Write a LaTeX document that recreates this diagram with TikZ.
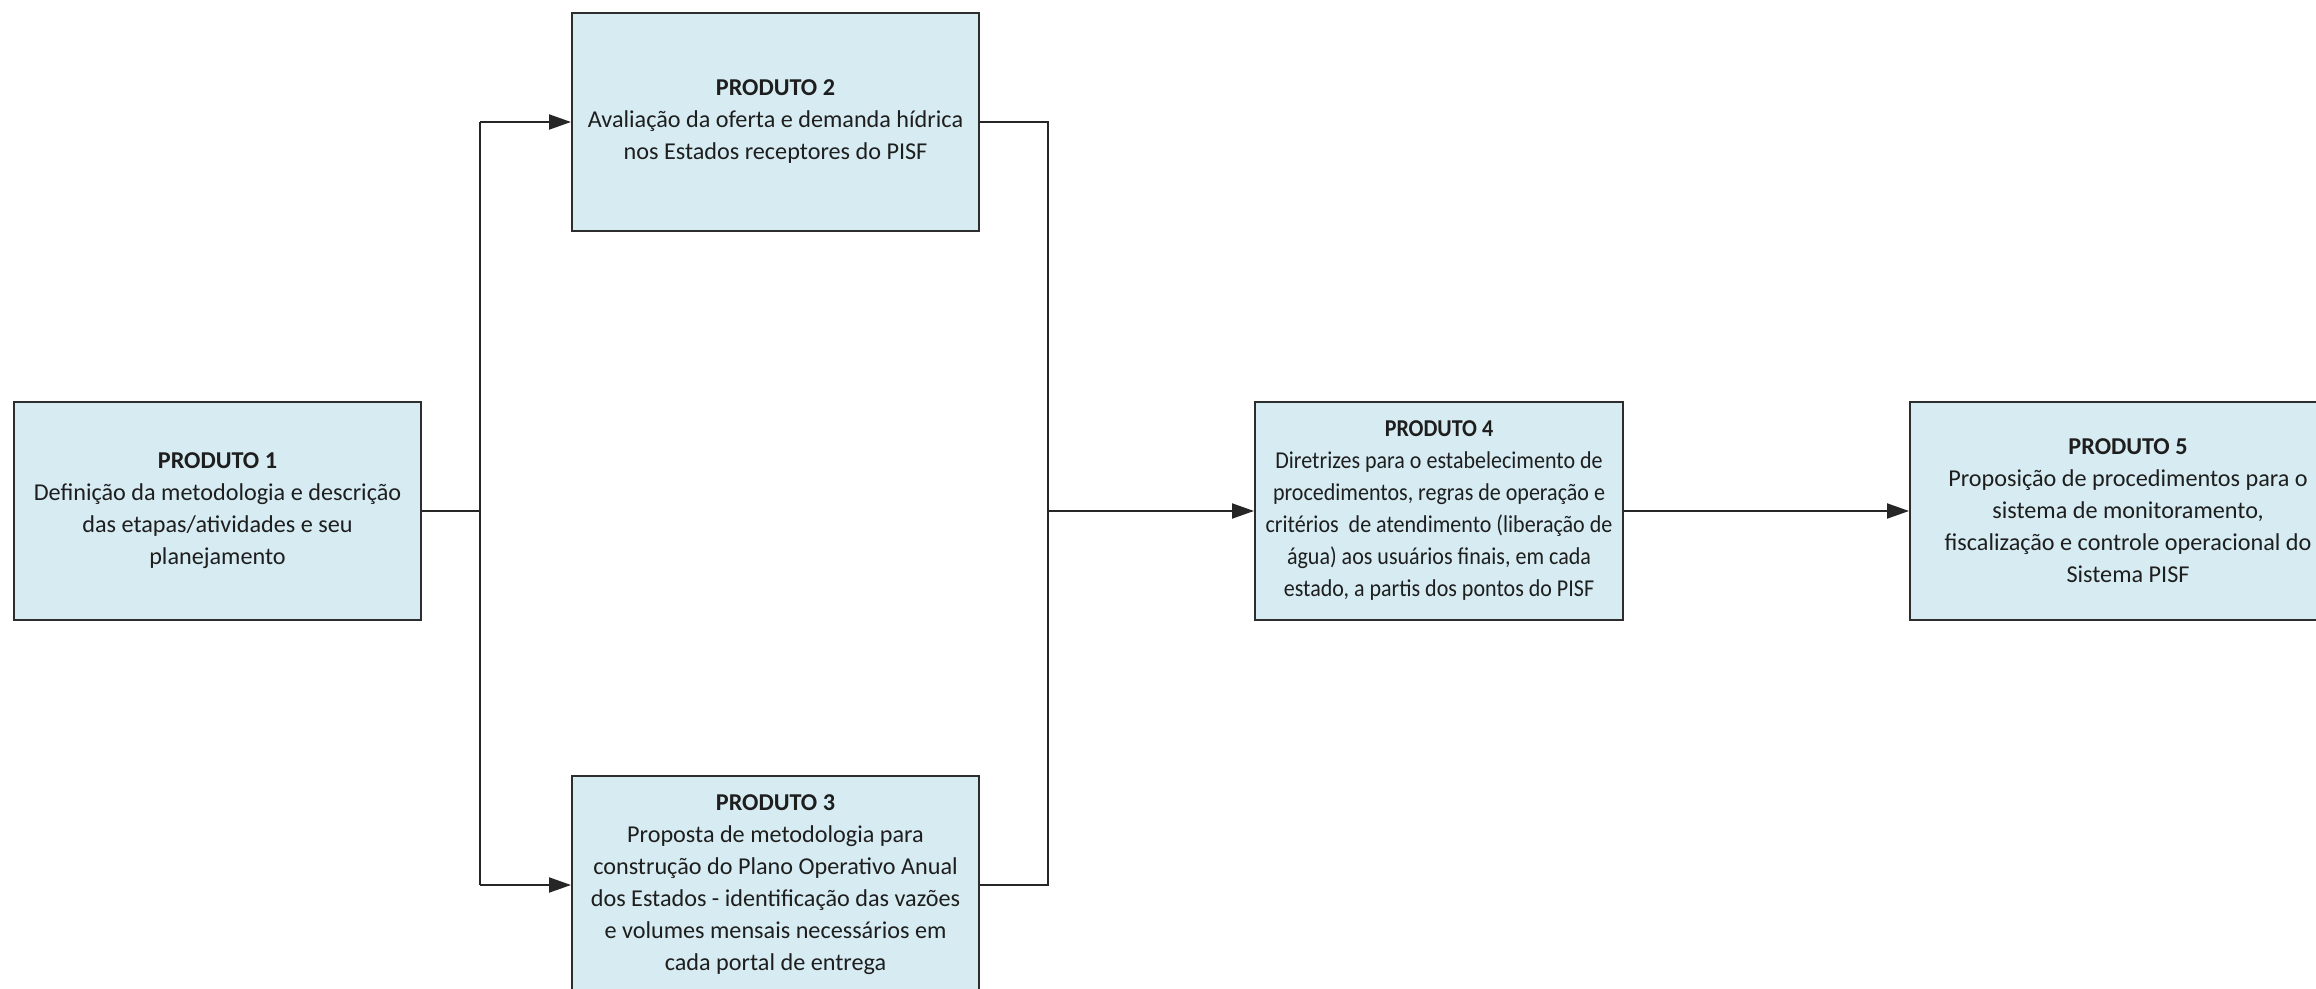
\documentclass[tikz,border=0pt]{standalone}
\usepackage{fontspec}
\setmainfont{Carlito}
\newfontfamily\condfont[FakeStretch=0.91]{Carlito}
\usetikzlibrary{arrows.meta}
\definecolor{boxfill}{RGB}{214,236,242}
\definecolor{boxline}{RGB}{45,45,45}
\definecolor{txt}{RGB}{30,30,30}
\tikzset{
  prodbox/.style={draw=boxline, line width=1pt, fill=boxfill, rectangle, inner sep=0pt,
    align=center, text=txt, font=\fontsize{12.1}{16}\selectfont},
  conn/.style={draw=black!85, line width=1pt},
  arr/.style={conn, -{Triangle[length=11pt,width=7.5pt]}}
}
\begin{document}
\begin{tikzpicture}[x=0.5pt,y=-0.5pt]
\useasboundingbox (0,0) rectangle (2316,989);
\node[prodbox, minimum width=203.5pt, minimum height=109pt] (p1) at (217.5,511)
  {\textbf{PRODUTO 1}\\Definição da metodologia e descrição\\das etapas/atividades e seu\\planejamento};
\node[prodbox, minimum width=203.5pt, minimum height=109pt] (p2) at (775.5,122)
  {\textbf{PRODUTO 2}\\Avaliação da oferta e demanda hídrica\\nos Estados receptores do PISF};
\node[prodbox, minimum width=203.5pt, minimum height=109pt] (p3) at (775.5,885)
  {\textbf{PRODUTO 3}\\Proposta de metodologia para\\construção do Plano Operativo Anual\\dos Estados - identificação das vazões\\e volumes mensais necessários em\\cada portal de entrega};
\node[prodbox, minimum width=184pt, minimum height=109pt,
      font=\condfont\fontsize{12.1}{16}\selectfont] (p4) at (1439,511)
  {\textbf{PRODUTO 4}\\Diretrizes para o estabelecimento de\\procedimentos, regras de operação e\\critérios\ \ de atendimento (liberação de\\água) aos usuários finais, em cada\\estado, a partis dos pontos do PISF};
\node[prodbox, minimum width=218pt, minimum height=109pt] (p5) at (2128,511)
  {\textbf{PRODUTO 5}\\Proposição de procedimentos para o\\sistema de monitoramento,\\fiscalização e controle operacional do\\Sistema PISF};
\coordinate (j1) at (480,511);
\coordinate (j2) at (1048,511);
% from P1 to P2 and P3
\draw[conn] (p1.east) -- (j1);
\draw[conn] (j1 |- p2.west) -- (j1 |- p3.west);
\draw[arr] (j1 |- p2.west) -- (p2.west);
\draw[arr] (j1 |- p3.west) -- (p3.west);
% from P2 and P3 to P4
\draw[conn] (p2.east) -- (j2 |- p2.east) -- (j2 |- p3.east) -- (p3.east);
\draw[arr] (j2) -- (p4.west);
% P4 to P5
\draw[arr] (p4.east) -- (p5.west);
\end{tikzpicture}
\end{document}
